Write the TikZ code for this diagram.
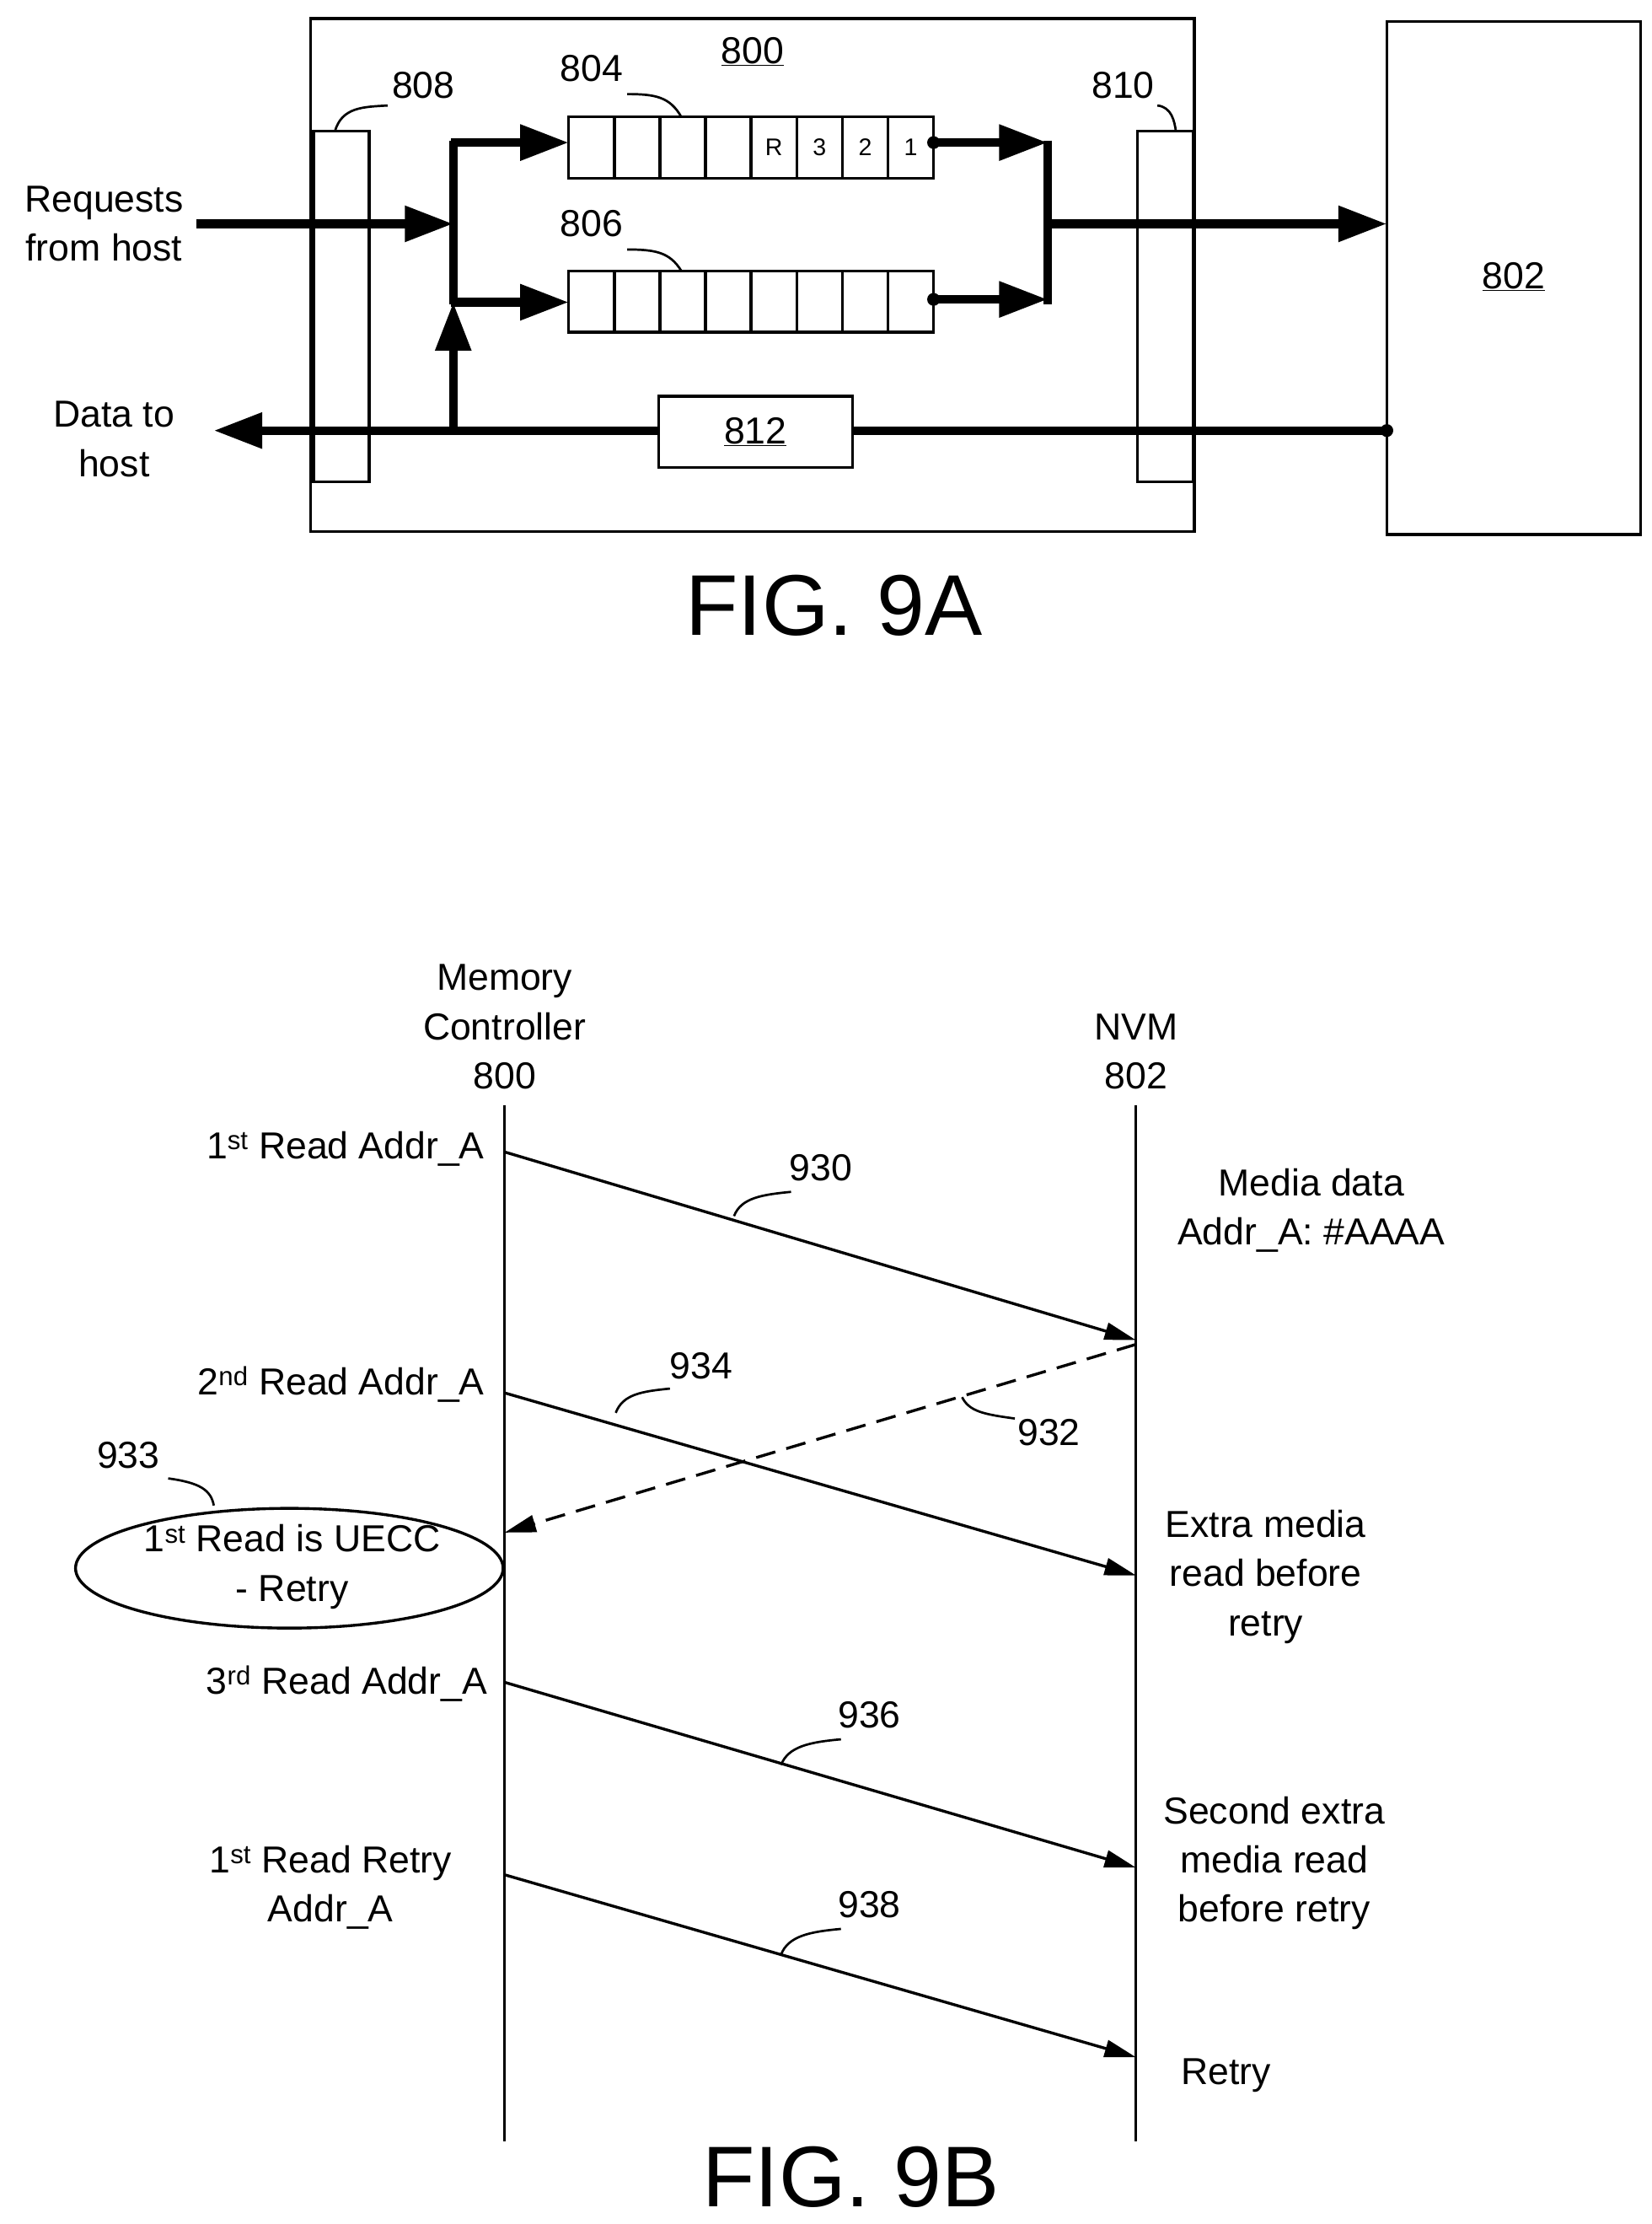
\documentclass[tikz,border=0pt]{standalone}
\usepackage{fontspec}
\setmainfont{Liberation Sans}
\usetikzlibrary{arrows.meta,shapes.geometric}
\begin{document}
\begin{tikzpicture}[x=0.5mm,y=-0.5mm,
 thin line/.style={line width=1mm},
 thick line/.style={line width=3mm},
 big/.style={-{Triangle[length=17mm,width=12mm]}},
 small/.style={-{Triangle[length=11mm,width=6mm]}},
 txt/.style={font=\fontsize{37.5}{49}\selectfont,align=center,inner sep=0},
 cell/.style={font=\fontsize{24}{28}\selectfont,inner sep=0},
 lead/.style={line width=0.8mm},
 dot/.style={circle,fill,inner sep=0,minimum size=4.5mm}]
\useasboundingbox (0,0) rectangle (1159,1560);
% ---------- FIG 9A
\draw[thin line] (218,13) rectangle (838,373);
\node[txt] (l800) at (528,36) {\underline{800}};
\draw[thin line] (220,92) rectangle (259,338);
\draw[thin line] (798,92) rectangle (837,338);
\draw[thin line] (973,15) rectangle (1151,375);
\node[txt] (l802) at (1062,194) {\underline{802}};
\node[txt] (l808) at (297,60) {808};
\draw[lead] (235,92) .. controls (240,75) and (255,75) .. (272,74);
\node[txt] (l810) at (788,60) {810};
\draw[lead] (812,74) .. controls (822,75) and (824,85) .. (825,92);
% queues
\foreach \y/\n in {82/q804,190/q806}{
 \draw[thin line,fill=white] (399,\y) rectangle (655,\y+43);
 \foreach \i in {1,...,7} \draw[thin line] (399+32*\i,\y) -- (399+32*\i,\y+43);
}
\node[cell] at (543,103.5) {R};
\node[cell] at (575,103.5) {3};
\node[cell] at (607,103.5) {2};
\node[cell] at (639,103.5) {1};
\node[txt] (l804) at (415,48) {804};
\draw[lead] (440,66) .. controls (460,66) and (470,68) .. (478,82);
\node[txt] (l806) at (415,157) {806};
\draw[lead] (440,175) .. controls (460,175) and (470,177) .. (478,190);
% input
\node[txt] (req) at (73,157) {Requests\\from host};
\coordinate (bin) at (318,157);
\draw[thick line,big] (138,157) -- (bin);
\draw[thick line] (318,98.5) -- (318,213.5);
\draw[thick line,big] (316.5,100) -- (399,100);
\draw[thick line,big] (316.5,212) -- (399,212);
\draw[thick line,big] (318,302) -- (318,212);
% output
\node[dot] at (655,100) {};
\node[dot] at (655,210) {};
\draw[thick line,big] (655,100) -- (735,100);
\draw[thick line,big] (655,210) -- (735,210);
\draw[thick line] (735,98.5) -- (735,213.5);
\draw[thick line,big] (733.5,157) -- (973,157);
% return
\node[dot] at (973,302) {};
\draw[thick line,big] (973,302) -- (150,302);
\node[txt,draw,thin line,fill=white,minimum width=68mm,minimum height=25mm] (b812) at (530,303) {\underline{812}};
\node[txt] (data) at (80,308) {Data to\\host};
\node[font=\fontsize{86}{100}\selectfont,inner sep=0] (f9a) at (585,425) {FIG. 9A};
% ---------- FIG 9B
\node[txt,anchor=south] (mc) at (354,764) {Memory\\Controller\\800};
\node[txt,anchor=south] (nvm) at (797,764) {NVM\\802};
\draw[thin line] (354,775) -- (354,1502);
\draw[thin line] (797,775) -- (797,1502);
\tikzset{lab/.style={txt,anchor=east}}
\node[lab] at (340,806) {1\textsuperscript{st} Read Addr\_A};
\node[lab] at (340,971) {2\textsuperscript{nd} Read Addr\_A};
\node[lab] at (342,1181) {3\textsuperscript{rd} Read Addr\_A};
\node[txt] at (232,1324) {1\textsuperscript{st} Read Retry\\Addr\_A};
\draw[thin line,small] (354,808) -- (797,940);
\draw[thin line,small,dashed,dash pattern=on 7mm off 4mm] (797,943) -- (354,1075);
\draw[thin line,small] (354,977) -- (797,1105);
\draw[thin line,small] (354,1180) -- (797,1310);
\draw[thin line,small] (354,1315) -- (797,1443);
\node[draw,thin line,ellipse,minimum width=150mm,minimum height=42mm] (ell) at (203,1100) {};
\node[txt] at (205,1099) {1\textsuperscript{st} Read is UECC\\- Retry};
\node[txt] at (90,1021) {933};
\draw[lead] (150,1056) .. controls (148,1045) and (140,1040) .. (118,1037);
\node[txt] at (920,849) {Media data\\Addr\_A: \#AAAA};
\node[txt] at (888,1106) {Extra media\\read before\\retry};
\node[txt] at (894,1307) {Second extra\\media read\\before retry};
\node[txt] at (860,1456) {Retry};
\node[txt] at (576,819) {930};
\draw[lead] (515,853) .. controls (520,840) and (535,838) .. (555,836);
\node[txt] at (492,958) {934};
\draw[lead] (432,991) .. controls (437,978) and (450,976) .. (470,974);
\node[txt] at (736,1005) {932};
\draw[lead] (675,980) .. controls (680,990) and (690,992) .. (712,995);
\node[txt] at (610,1203) {936};
\draw[lead] (548,1238) .. controls (553,1225) and (568,1222) .. (590,1220);
\node[txt] at (610,1336) {938};
\draw[lead] (548,1371) .. controls (553,1358) and (568,1355) .. (590,1353);
\node[font=\fontsize{86}{100}\selectfont,inner sep=0] (f9b) at (597,1527) {FIG. 9B};
\end{tikzpicture}
\end{document}
